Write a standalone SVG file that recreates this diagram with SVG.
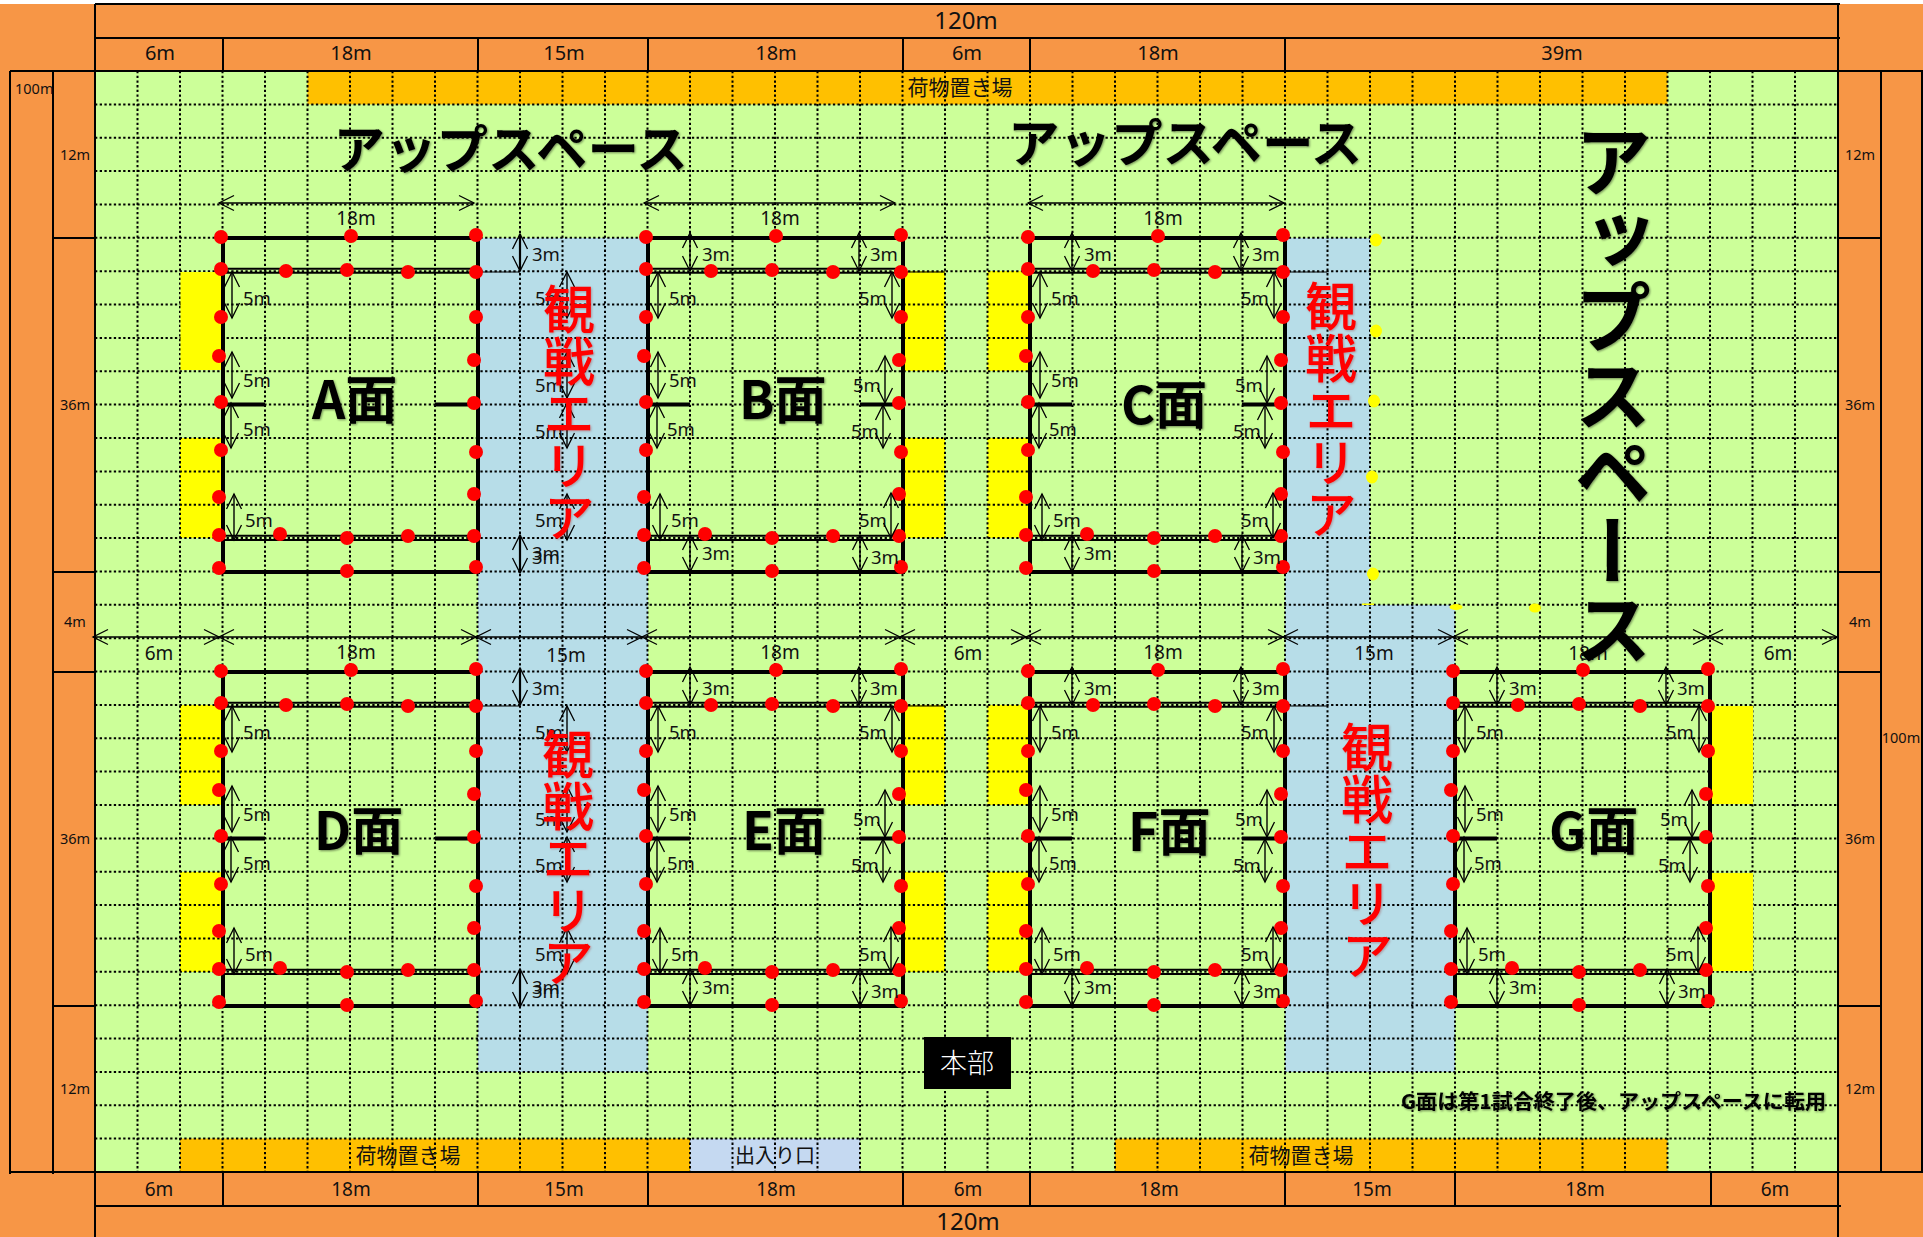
<svg xmlns="http://www.w3.org/2000/svg" xmlns:xlink="http://www.w3.org/1999/xlink" width="1923" height="1237" viewBox="0 0 1923 1237">
<style>
text{font-family:"Noto Sans","Noto Sans CJK JP",sans-serif;fill:#111}
.j{font-family:"Noto Sans CJK JP","Noto Sans",sans-serif}
.c{text-anchor:middle}
.d{font-size:18.5px}
.h{font-size:20px}
.t{font-size:19px}
.s{font-size:14.5px}
.big{font-size:24px}
.cargo{font-size:21px;text-anchor:middle}
.up{font-family:"Noto Sans CJK JP",sans-serif;font-weight:700;font-size:51.5px;fill:#000;filter:url(#sh)}
.upv{font-family:"Noto Sans CJK JP",sans-serif;font-weight:700;font-size:78px;fill:#000;writing-mode:vertical-rl;filter:url(#sh)}
.red{font-family:"Noto Sans CJK JP",sans-serif;font-weight:500;font-size:52px;fill:#f00;writing-mode:vertical-rl;filter:url(#shr)}
.name{font-family:"Noto Sans CJK JP",sans-serif;font-weight:700;font-size:52px;fill:#000;filter:url(#sh)}
.bl{stroke:#000;stroke-width:2;fill:none}
.grid{stroke:#000;stroke-width:2;stroke-dasharray:2.3 2.4;fill:none}
.dim{stroke:#000;stroke-width:1.4;fill:none;marker-start:url(#v);marker-end:url(#v)}
.dimb{stroke:#000;stroke-width:2.2;fill:none;marker-start:url(#v);marker-end:url(#v)}
.y{fill:#ff0}
.dot{fill:#f00}
.yd{fill:#ff0}
</style>
<defs>
<filter id="sh" x="-10%" y="-10%" width="125%" height="125%"><feDropShadow dx="1" dy="1" stdDeviation="1.2" flood-color="#000" flood-opacity="0.45"/></filter>
<filter id="shr" x="-10%" y="-10%" width="125%" height="125%"><feDropShadow dx="1" dy="1" stdDeviation="1" flood-color="#800" flood-opacity="0.3"/></filter>
<marker id="v" markerUnits="userSpaceOnUse" markerWidth="20" markerHeight="20" refX="15" refY="8" orient="auto-start-reverse" overflow="visible"><path d="M0,0.5L15,8L0,15.5" fill="none" stroke="#000" stroke-width="1.3"/></marker>
<g id="pitch">
<path d="M0,0H255V334H0Z" fill="none" stroke="#000" stroke-width="4"/>
<path d="M0,30.7H255M0,34.7H255M0,297.7H255M0,302H255" fill="none" stroke="#000" stroke-width="2"/>
<path d="M0,166.5H42M212,166.5H255" fill="none" stroke="#000" stroke-width="4"/>
</g>
<g id="dots" class="dot">
<circle cx="-2" cy="-1" r="7"/><circle cx="128" cy="-2" r="7"/><circle cx="253" cy="-3" r="7"/>
<circle cx="-2" cy="31" r="7"/><circle cx="63" cy="33" r="7"/><circle cx="124" cy="32" r="7"/><circle cx="185" cy="34" r="7"/><circle cx="253" cy="34" r="7"/>
<circle cx="-2" cy="79" r="7"/><circle cx="-4" cy="118" r="7"/><circle cx="-2" cy="164" r="7"/><circle cx="-2" cy="212" r="7"/><circle cx="-4" cy="259" r="7"/><circle cx="-4" cy="297" r="7"/><circle cx="-4" cy="330" r="7"/>
<circle cx="253" cy="79" r="7"/><circle cx="251" cy="122" r="7"/><circle cx="251" cy="165" r="7"/><circle cx="253" cy="214" r="7"/><circle cx="251" cy="256" r="7"/><circle cx="251" cy="298" r="7"/><circle cx="253" cy="329" r="7"/>
<circle cx="57" cy="296" r="7"/><circle cx="124" cy="300" r="7"/><circle cx="185" cy="298" r="7"/><circle cx="124" cy="333" r="7"/>
</g>
<g id="arrowsAD">
<path class="dim" d="M9,34V80"/><path class="dim" d="M9,114V160"/><path class="dim" d="M8,165V210"/><path class="dim" d="M11,256V302"/>
<path class="dim" d="M344,34V80"/><path class="dim" d="M344,114V160"/><path class="dim" d="M344,165V210"/><path class="dim" d="M344,256V302"/>
<path class="dimb" d="M297,-4V33"/><path class="dimb" d="M297,297V335"/>
</g>
<g id="arrowsN">
<path class="dim" d="M10,34V80"/><path class="dim" d="M10,114V160"/><path class="dim" d="M9,165V210"/><path class="dim" d="M12,256V302"/>
<path class="dim" d="M244,34V80"/><path class="dim" d="M237,118V165"/><path class="dim" d="M235,167V210"/><path class="dim" d="M243,255V300"/>
<path class="dim" d="M42,-5V33"/><path class="dim" d="M211,-5V33"/><path class="dim" d="M42,297V334"/><path class="dim" d="M212,297V334"/>
</g>
</defs>

<rect id="ground" x="0" y="4" width="1923" height="1233" fill="#f79646"/>
<rect id="field" x="95" y="71" width="1743" height="1101" fill="#ccff99"/>
<g id="areas">
<rect x="307.5" y="71" width="1360" height="33.4" fill="#ffc000"/>
<rect x="180" y="1138.6" width="510" height="33.4" fill="#ffc000"/>
<rect x="690" y="1138.6" width="170" height="33.4" fill="#c5d9f1"/>
<rect x="1115" y="1138.6" width="552.5" height="33.4" fill="#ffc000"/>
<rect x="478" y="238" width="170" height="834" fill="#b7dde8"/>
<path d="M1285,238H1370V604.8H1455V1072H1285Z" fill="#b7dde8"/>
<g class="y">
<rect x="180" y="438" width="43" height="100"/>
<rect x="180" y="705" width="43" height="100"/><rect x="180" y="872" width="43" height="100"/>
<rect x="903" y="271" width="42" height="100"/><rect x="903" y="438" width="42" height="100"/>
<rect x="903" y="705" width="42" height="100"/><rect x="903" y="872" width="42" height="100"/>
<rect x="987.5" y="271" width="42.5" height="100"/><rect x="987.5" y="438" width="42.5" height="100"/>
<rect x="987.5" y="705" width="42.5" height="100"/><rect x="987.5" y="872" width="42.5" height="100"/>
</g>
</g>
<path id="grid" class="grid" d="M137.5,71V1172M180,71V1172M222.5,71V1172M265,71V1172M307.5,71V1172M350,71V1172M392.5,71V1172M435,71V1172M477.5,71V1172M520,71V1172M562.5,71V1172M605,71V1172M647.5,71V1172M690,71V1172M732.5,71V1172M775,71V1172M817.5,71V1172M860,71V1172M902.5,71V1172M945,71V1172M987.5,71V1172M1030,71V1172M1072.5,71V1172M1115,71V1172M1157.5,71V1172M1200,71V1172M1242.5,71V1172M1285,71V1172M1327.5,71V1172M1370,71V1172M1412.5,71V1172M1455,71V1172M1497.5,71V1172M1540,71V1172M1582.5,71V1172M1625,71V1172M1667.5,71V1172M1710,71V1172M1752.5,71V1172M1795,71V1172
M95,104.4H1838M95,137.7H1838M95,171.1H1838M95,204.5H1838M95,237.8H1838M95,271.2H1838M95,304.5H1838M95,337.9H1838M95,371.3H1838M95,404.6H1838M95,438H1838M95,471.4H1838M95,504.7H1838M95,538.1H1838M95,571.5H1838M95,604.8H1838M95,638.2H1838M95,671.5H1838M95,704.9H1838M95,738.3H1838M95,771.6H1838M95,805H1838M95,838.4H1838M95,871.7H1838M95,905.1H1838M95,938.5H1838M95,971.8H1838M95,1005.2H1838M95,1038.5H1838M95,1071.9H1838M95,1105.3H1838M95,1138.6H1838"/>
<g class="y">
<rect x="180.5" y="272" width="42" height="98"/>
<rect x="1712" y="706" width="41" height="98"/><rect x="1712" y="873" width="41" height="98"/>
</g>

<g id="frame">
<path class="bl" d="M95,4V1237M1838,4V1237M95,4H1840M95,38H1840M10,71H1923M10,71V1174M53,71V1174M1881,71V1172M1922,71V1172M10,1172H1923M95,1206H1841"/>
<path class="bl" d="M223,38V71M478,38V71M648,38V71M903,38V71M1030,38V71M1285,38V71M223,1172V1206M478,1172V1206M648,1172V1206M903,1172V1206M1030,1172V1206M1285,1172V1206M1455,1172V1206M1711,1172V1206"/>
<path class="bl" d="M53,238H95M53,572H95M53,672H95M53,1006H95M1838,238H1881M1838,572H1881M1838,672H1881M1838,1006H1881"/>
<g id="frame-labels">
<text class="big c" x="966" y="29">120m</text>
<text class="h c" x="160" y="60">6m</text><text class="h c" x="351" y="60">18m</text><text class="h c" x="564" y="60">15m</text><text class="h c" x="776" y="60">18m</text><text class="h c" x="967" y="60">6m</text><text class="h c" x="1158" y="60">18m</text><text class="h c" x="1562" y="60">39m</text>
<text class="t c" x="159" y="1196">6m</text><text class="t c" x="351" y="1196">18m</text><text class="t c" x="564" y="1196">15m</text><text class="t c" x="776" y="1196">18m</text><text class="t c" x="968" y="1196">6m</text><text class="t c" x="1159" y="1196">18m</text><text class="t c" x="1372" y="1196">15m</text><text class="t c" x="1585" y="1196">18m</text><text class="t c" x="1775" y="1196">6m</text>
<text class="big c" x="968" y="1230">120m</text>
<text class="s" x="15" y="94">100m</text>
<text class="s c" x="75" y="160">12m</text><text class="s c" x="75" y="410">36m</text><text class="s c" x="75" y="627">4m</text><text class="s c" x="75" y="844">36m</text><text class="s c" x="75" y="1094">12m</text>
<text class="s c" x="1860" y="160">12m</text><text class="s c" x="1860" y="410">36m</text><text class="s c" x="1860" y="627">4m</text><text class="s c" x="1860" y="844">36m</text><text class="s c" x="1860" y="1094">12m</text>
<text class="s c" x="1901" y="743">100m</text>
</g>
</g>

<g id="cargo-top"><text class="cargo j" x="960" y="95">荷物置き場</text></g>
<g id="cargo-left"><text class="cargo j" x="408" y="1163">荷物置き場</text></g>
<g id="entrance"><text class="cargo j" x="775" y="1163" style="font-size:20px">出入り口</text></g>
<g id="cargo-right"><text class="cargo j" x="1301" y="1163">荷物置き場</text></g>

<g id="court-A" transform="translate(223,238)"><use href="#pitch"/><path d="M255,34H297" stroke="#000" fill="none"/><use href="#dots"/>
<text class="name" x="89" y="181">A面</text>
<g class="d"><text x="20" y="66.5">5m</text><text x="20" y="148.5">5m</text><text x="20" y="197.5">5m</text><text x="22" y="289">5m</text>
<text x="312" y="66.5">5m</text><text x="312" y="153.5">5m</text><text x="312" y="200">5m</text><text x="312" y="289">5m</text>
<text x="309" y="22.5">3m</text><text x="309" y="321.5">3m</text><text x="309" y="325.5">3m</text></g></g>

<g id="court-B" transform="translate(648,238)"><use href="#pitch"/><path d="M255,34H297" stroke="#000" fill="none"/><use href="#dots"/>
<text class="name" x="91" y="181">B面</text>
<g class="d"><text x="21" y="66.5">5m</text><text x="21" y="148.5">5m</text><text x="19" y="197.5">5m</text><text x="23" y="289">5m</text>
<text x="211" y="66.5">5m</text><text x="205" y="153.5">5m</text><text x="203" y="199.5">5m</text><text x="211" y="289">5m</text>
<text x="54" y="22.5">3m</text><text x="222" y="22.5">3m</text><text x="54" y="321.5">3m</text><text x="223" y="325.5">3m</text></g></g>

<g id="court-C" transform="translate(1030,238)"><use href="#pitch"/><path d="M255,34H297" stroke="#000" fill="none"/><use href="#dots"/>
<text class="name" x="91" y="186">C面</text>
<g class="d"><text x="21" y="66.5">5m</text><text x="21" y="148.5">5m</text><text x="19" y="197.5">5m</text><text x="23" y="289">5m</text>
<text x="211" y="66.5">5m</text><text x="205" y="153.5">5m</text><text x="203" y="199.5">5m</text><text x="211" y="289">5m</text>
<text x="54" y="22.5">3m</text><text x="222" y="22.5">3m</text><text x="54" y="321.5">3m</text><text x="223" y="325.5">3m</text></g></g>

<g id="court-D" transform="translate(223,672)"><use href="#pitch"/><path d="M255,34H297" stroke="#000" fill="none"/><use href="#dots"/>
<text class="name" x="91" y="178">D面</text>
<g class="d"><text x="20" y="66.5">5m</text><text x="20" y="148.5">5m</text><text x="20" y="197.5">5m</text><text x="22" y="289">5m</text>
<text x="312" y="66.5">5m</text><text x="312" y="153.5">5m</text><text x="312" y="200">5m</text><text x="312" y="289">5m</text>
<text x="309" y="22.5">3m</text><text x="309" y="321.5">3m</text><text x="309" y="325.5">3m</text></g></g>

<g id="court-E" transform="translate(648,672)"><use href="#pitch"/><path d="M255,34H297" stroke="#000" fill="none"/><use href="#dots"/>
<text class="name" x="94" y="178">E面</text>
<g class="d"><text x="21" y="66.5">5m</text><text x="21" y="148.5">5m</text><text x="19" y="197.5">5m</text><text x="23" y="289">5m</text>
<text x="211" y="66.5">5m</text><text x="205" y="153.5">5m</text><text x="203" y="199.5">5m</text><text x="211" y="289">5m</text>
<text x="54" y="22.5">3m</text><text x="222" y="22.5">3m</text><text x="54" y="321.5">3m</text><text x="223" y="325.5">3m</text></g></g>

<g id="court-F" transform="translate(1030,672)"><use href="#pitch"/><path d="M255,34H297" stroke="#000" fill="none"/><use href="#dots"/>
<text class="name" x="98" y="179">F面</text>
<g class="d"><text x="21" y="66.5">5m</text><text x="21" y="148.5">5m</text><text x="19" y="197.5">5m</text><text x="23" y="289">5m</text>
<text x="211" y="66.5">5m</text><text x="205" y="153.5">5m</text><text x="203" y="199.5">5m</text><text x="211" y="289">5m</text>
<text x="54" y="22.5">3m</text><text x="222" y="22.5">3m</text><text x="54" y="321.5">3m</text><text x="223" y="325.5">3m</text></g></g>

<g id="court-G" transform="translate(1455,672)"><use href="#pitch"/><use href="#dots"/>
<text class="name" x="94" y="178">G面</text>
<g class="d"><text x="21" y="66.5">5m</text><text x="21" y="148.5">5m</text><text x="19" y="197.5">5m</text><text x="23" y="289">5m</text>
<text x="211" y="66.5">5m</text><text x="205" y="153.5">5m</text><text x="203" y="199.5">5m</text><text x="211" y="289">5m</text>
<text x="54" y="22.5">3m</text><text x="222" y="22.5">3m</text><text x="54" y="321.5">3m</text><text x="223" y="325.5">3m</text></g></g>

<g id="connectors">
<use href="#arrowsAD" transform="translate(223,238)"/>
<use href="#arrowsN" transform="translate(648,238)"/>
<use href="#arrowsN" transform="translate(1030,238)"/>
<use href="#arrowsAD" transform="translate(223,672)"/>
<use href="#arrowsN" transform="translate(648,672)"/>
<use href="#arrowsN" transform="translate(1030,672)"/>
<use href="#arrowsN" transform="translate(1455,672)"/>
<path class="dim" d="M219,203H474"/><path class="dim" d="M644,203H895"/><path class="dim" d="M1028,203H1284"/>
<path class="dim" d="M93,637H219"/><path class="dim" d="M219,637H476"/><path class="dim" d="M476,637H642"/><path class="dim" d="M642,637H900"/><path class="dim" d="M900,637H1026"/><path class="dim" d="M1026,637H1283"/><path class="dim" d="M1283,637H1453"/><path class="dim" d="M1453,637H1708"/><path class="dim" d="M1708,637H1837"/>
</g>
<g id="span-labels" class="t">
<text class="c" x="356" y="225">18m</text><text class="c" x="780" y="225">18m</text><text class="c" x="1163" y="225">18m</text>
<text class="c" x="159" y="660">6m</text><text class="c" x="356" y="659">18m</text><text class="c" x="566" y="662">15m</text><text class="c" x="780" y="659">18m</text><text class="c" x="968" y="660">6m</text><text class="c" x="1163" y="659">18m</text><text class="c" x="1374" y="660">15m</text><text class="c" x="1588" y="660">18m</text><text class="c" x="1778" y="660">6m</text>
</g>

<g id="stray-dots" class="yd">
<ellipse cx="1376" cy="240" rx="6" ry="6.5"/><ellipse cx="1376" cy="331" rx="6" ry="6.5"/><ellipse cx="1374" cy="401" rx="6" ry="6.5"/><ellipse cx="1372" cy="477" rx="6" ry="6.5"/><ellipse cx="1373" cy="574" rx="6" ry="6.5"/><ellipse cx="1456" cy="607" rx="6.5" ry="3"/><ellipse cx="1535" cy="608" rx="6" ry="4.5"/><rect x="1362" y="603.5" width="12" height="1.5"/>
</g>

<g id="hq"><rect x="924" y="1037" width="87" height="52" fill="#000"/><text class="j c" x="967" y="1073" style="font-size:27px;font-weight:300;fill:#fff">本部</text></g>

<g id="up-1"><text class="up" x="333.5" y="168">アップスペース</text></g>
<g id="up-2"><text class="up" x="1008" y="162">アップスペース</text></g>
<g id="up-3"><text class="upv" x="1613" y="122">アップスペース</text></g>
<g id="watch-1"><text class="red" x="569" y="283">観戦エリア</text></g>
<g id="watch-2"><text class="red" x="1331" y="280">観戦エリア</text></g>
<g id="watch-3"><text class="red" x="568" y="728">観戦エリア</text></g>
<g id="watch-4"><text class="red" x="1367" y="721">観戦エリア</text></g>
<g id="note"><text class="j" x="1401" y="1109" textLength="425" lengthAdjust="spacingAndGlyphs" style="font-size:20px;font-weight:700;fill:#000;filter:url(#sh)">G面は第1試合終了後、アップスペースに転用</text></g>
</svg>
